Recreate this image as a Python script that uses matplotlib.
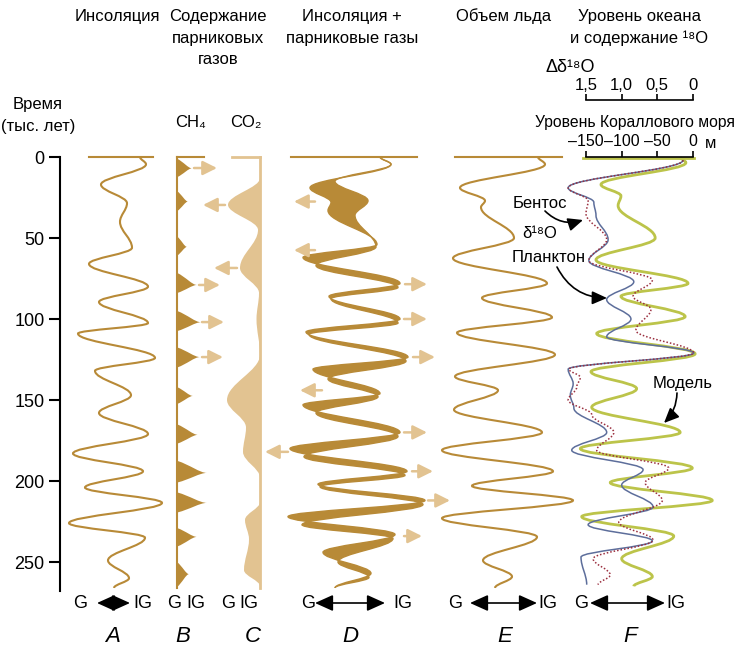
import matplotlib.pyplot as plt
from matplotlib.path import Path
from matplotlib.patches import PathPatch, FancyArrowPatch
from matplotlib.ticker import FuncFormatter

plt.rcParams['font.family'] = ['Liberation Sans', 'DejaVu Sans']

W, H = 740, 653
T_MAX = 267.9

BROWN = '#b88a37'
TAN = '#e2c391'
GREEN = '#bcc44a'
BLUE = '#5d6e9b'
RED = '#9b2f3f'

# ---- data: time in thousand years, horizontal value in each panel's own units ----
time_ticks = [0, 50, 100, 150, 200, 250]

# A: insolation
insol_t = [0, 4.5, 17, 28.5, 40, 56, 66, 80, 89.5, 102.5, 109, 124, 132, 147, 158,
           171, 183, 194, 204, 213.5, 226, 235, 249, 260, 266]
insol_x = [80, 86, 41, 67, 60, 72, 29, 88, 39, 88, 18, 95, 35, 71, 39,
           88, 13, 83, 25, 102, 9, 85, 48, 69, 54]

# B: CH4 peaks
ch4_start = [1, 21, 49, 71.5, 95, 117.5, 142, 165, 187.5, 207, 229, 250]
ch4_peak = [7, 27.5, 55.5, 79, 102, 123.5, 147.5, 171.5, 195, 213.5, 234.5, 257.5]
ch4_end = [12.5, 33.5, 61, 84, 107.5, 130, 152.5, 177, 201, 219.5, 240.5, 265.5]
ch4_height = [15, 11, 10, 20, 24, 23, 16, 21, 30, 30, 20, 12]

# C: CO2 (baseline at 39)
co2_t = [13, 29.5, 45, 68.5, 84, 100, 122, 150, 167, 182, 198, 213, 224, 236, 255, 265]
co2_x = [39, 7, 37, 19, 38, 35.5, 39, 6, 25, 22, 39, 39, 24, 28, 23, 39]

# D: insolation + greenhouse gases (two edges of the band)
combo_a_t = [0, 4.5, 19, 28, 33, 54, 62, 78, 86, 100, 108, 123.5, 131, 146, 153,
             170, 180, 194, 202, 212, 222, 233, 244, 257, 266]
combo_a_x = [100, 111, 30, 51, 48, 97, 23, 120, 49, 120, 26, 128, 33, 100, 23,
             120, 10, 127, 38, 145, 8, 115, 43, 91, 55]
combo_b_t = [0, 4.5, 15, 27, 36, 55.5, 67, 80.5, 87.5, 102.5, 109.5, 126, 137, 148, 158,
             172.5, 185, 196.5, 203.5, 214.5, 227, 235.5, 250, 259.5, 266]
combo_b_x = [100, 111, 55, 88, 75, 96, 36, 118, 51, 118, 29, 126, 48, 98, 36,
             118, 24, 125, 40, 143, 22, 113, 58, 89, 55]

# E: ice volume
ice_t = [0, 4.5, 19, 27, 31, 50, 62.5, 78, 87, 99, 108.5, 122, 135.5, 144, 156,
         170, 181, 194, 203, 212, 223, 234.5, 249, 259, 266]
ice_x = [98, 105, 20, 45, 41, 74, 13, 107, 42, 112, 17, 115, 15, 58, 14,
         102, 2, 113, 32, 133, 2, 97, 43, 72, 55]

# F: sea level, m
model_t = [0, 3.5, 17, 24, 30, 50, 63.5, 78, 86, 98.5, 109, 121.5, 132.5, 143, 154.5,
           170, 180, 192, 201, 212, 222, 234, 248, 259, 265]
model_m = [-18, -10, -129, -101, -105, -53, -136, -7, -101, -11, -135, 3, -143, -79, -142,
           -18, -158, -1, -116, 27, -156, -27, -100, -57, -83]
plankton_t = [2, 19, 28, 36, 51, 64, 77, 88, 100, 111, 121, 131, 140, 147, 155,
              170, 181, 193, 202.5, 216, 227, 237, 247, 264]
plankton_m = [-14, -175, -139, -136, -119, -146, -83, -121, -87, -121, 1, -175, -168, -172, -167,
              -121, -170, -70, -100, -56, -147, -57, -157, -149]
benthos_t = [2, 19, 27, 35, 51, 64, 76, 86, 94, 107, 121, 131, 136, 142, 150, 159,
             170, 181, 192, 201, 212, 225.5, 236.5, 248, 258, 264]
benthos_m = [-14, -175, -147, -150, -121, -146, -57, -84, -59, -80, 1, -174, -158, -163, -175, -142,
             -111, -135, -34, -67, -43, -104, -56, -140, -116, -133]

d18o_ticks = [1.5, 1.0, 0.5, 0]
sea_ticks = [-150, -100, -50, 0]

# tan arrows: (time, x from, x to) in figure pixel columns
ghg_arrows = [(6.8, 194, 217), (29.6, 225, 203), (68.5, 237, 214), (79, 199, 220),
              (101.9, 202, 224), (123.5, 202, 223),
              (27.5, 315, 294), (57.5, 315, 294), (78.5, 405, 427), (100, 404, 427),
              (123.5, 413, 435), (144, 322, 300), (170, 404, 427), (182, 288, 265),
              (194, 412, 433), (212, 428, 450), (234, 404, 422)]

K = 0.363


def wave_path(ts, xs):
    verts = [(xs[0], ts[0])]
    codes = [Path.MOVETO]
    for i in range(1, len(ts)):
        dt = ts[i] - ts[i - 1]
        verts += [(xs[i - 1], ts[i - 1] + K * dt), (xs[i], ts[i] - K * dt), (xs[i], ts[i])]
        codes += [Path.CURVE4] * 3
    return verts, codes


def draw_wave(ax, ts, xs, **kw):
    v, c = wave_path(ts, xs)
    ax.add_patch(PathPatch(Path(v, c), fill=False, clip_on=False, **kw))


fig = plt.figure(figsize=(W / 100, H / 100), dpi=100)
bottom = (H - 591) / H
height = 434 / H


def panel(x0, x1, xlim):
    ax = fig.add_axes([x0 / W, bottom, (x1 - x0) / W, height])
    ax.set_xlim(*xlim)
    ax.set_ylim(T_MAX, 0)
    ax.axis('off')
    return ax


def ftext(x, y, s, **kw):
    kw.setdefault('fontsize', 12)
    fig.text(x / W, 1 - y / H, s, ha='center', va='center', **kw)


# time axis
ax_t = fig.add_axes([60 / W, bottom, 0.0001, height])
ax_t.set_ylim(T_MAX, 0)
for s in ['top', 'right', 'bottom']:
    ax_t.spines[s].set_visible(False)
ax_t.spines['left'].set_linewidth(1.5)
ax_t.set_xticks([])
ax_t.set_yticks(time_ticks)
ax_t.tick_params(axis='y', length=8, width=1.5, pad=3, labelsize=13)
ax_t.patch.set_alpha(0)

# A
ax_a = panel(60, 180, (0, 120))
ax_a.plot([29, 93], [0, 0], color=BROWN, lw=1.5, clip_on=False)
draw_wave(ax_a, insol_t, insol_x, edgecolor=BROWN, lw=1.5)

# B
ax_b = panel(177, 217, (0, 40))
ax_b.plot([0, 27], [0, 0], color=BROWN, lw=1.5, clip_on=False)
ax_b.plot([0, 0], [0, 266], color=BROWN, lw=1.5, clip_on=False)
verts, codes = [], []
for ts, tp, te, h in zip(ch4_start, ch4_peak, ch4_end, ch4_height):
    verts += [(0, ts), (0.45 * h, ts + 0.35 * (tp - ts)), (0.75 * h, tp), (h, tp),
              (0.75 * h, tp), (0.45 * h, te - 0.35 * (te - tp)), (0, te), (0, ts)]
    codes += [Path.MOVETO] + [Path.CURVE4] * 6 + [Path.CLOSEPOLY]
ax_b.add_patch(PathPatch(Path(verts, codes), facecolor=BROWN, edgecolor='none', clip_on=False))

# C
ax_c = panel(221, 271, (0, 50))
ax_c.plot([11, 39], [0, 0], color=TAN, lw=2, clip_on=False)
ax_c.plot([39, 39], [0, 266], color=TAN, lw=2, clip_on=False)
v, c = wave_path(co2_t, co2_x)
ax_c.add_patch(PathPatch(Path(v + [v[0]], c + [Path.CLOSEPOLY]), facecolor=TAN,
                         edgecolor='none', clip_on=False))

# D
ax_d = panel(280, 450, (0, 170))
ax_d.plot([11, 137], [0, 0], color=BROWN, lw=1.5, clip_on=False)
va, ca = wave_path(combo_a_t, combo_a_x)
vb, cb = wave_path(combo_b_t[::-1], combo_b_x[::-1])
ax_d.add_patch(PathPatch(Path(va + vb + [va[0]], ca + [Path.LINETO] + cb[1:] + [Path.CLOSEPOLY]),
                         facecolor=BROWN, edgecolor='none', clip_on=False))
draw_wave(ax_d, combo_a_t, combo_a_x, edgecolor=BROWN, lw=1.0)
draw_wave(ax_d, combo_b_t, combo_b_x, edgecolor=BROWN, lw=1.0)

# E
ax_e = panel(440, 580, (0, 140))
ax_e.plot([15, 122], [0, 0], color=BROWN, lw=1.5, clip_on=False)
draw_wave(ax_e, ice_t, ice_x, edgecolor=BROWN, lw=1.5)

# F (sea level in metres)
m_per_px = 150 / 107
ax_f = fig.add_axes([555 / W, bottom, 165 / W, height])
ax_f.set_xlim((555 - 693) * m_per_px, (720 - 693) * m_per_px)
ax_f.set_ylim(T_MAX, 0)
ax_f.patch.set_alpha(0)
for s in ['left', 'right', 'bottom']:
    ax_f.spines[s].set_visible(False)
ax_f.spines['top'].set_bounds(-150, 0)
ax_f.spines['top'].set_linewidth(1.2)
ax_f.yaxis.set_visible(False)
ax_f.xaxis.tick_top()
ax_f.set_xticks(sea_ticks)
ax_f.set_xticklabels(['–150', '–100', '–50', '0'])
ax_f.tick_params(axis='x', direction='out', length=4, width=1.2, pad=1.5, labelsize=11.5)
ax_f.plot([-154, 1], [0.6, 0.6], color=GREEN, lw=2, clip_on=False)
draw_wave(ax_f, model_t, model_m, edgecolor=GREEN, lw=2)
draw_wave(ax_f, plankton_t, plankton_m, edgecolor=BLUE, lw=1.1)
draw_wave(ax_f, benthos_t, benthos_m, edgecolor=RED, lw=1.1, linestyle=(0, (1, 1.3)))

sec = ax_f.secondary_xaxis(1 + 57 / 434, functions=(lambda m: -m / 100, lambda d: -100 * d))
sec.set_xticks(d18o_ticks)
sec.xaxis.set_major_formatter(FuncFormatter(lambda v, p: '0' if v == 0 else f'{v:.1f}'.replace('.', ',')))
sec.tick_params(axis='x', direction='out', length=4, width=1.2, pad=1, labelsize=12)
for s in sec.spines.values():
    s.set_linewidth(1.2)
sec.spines['top'].set_bounds(0, 1.5)

arrow_kw = dict(arrowstyle='-|>,head_length=0.9,head_width=0.4', mutation_scale=10,
                color='black', lw=1.2, shrinkA=0, shrinkB=0)
for (x0, y0), (x1, y1), rad in [((545, 211), (583, 220), 0.3),
                                ((557, 267), (607, 298), 0.3),
                                ((677, 393), (664, 423), -0.2)]:
    ax_f.add_patch(FancyArrowPatch(((x0 - 693) * m_per_px, (y0 - 157) / 1.62),
                                   ((x1 - 693) * m_per_px, (y1 - 157) / 1.62),
                                   connectionstyle=f'arc3,rad={rad}', clip_on=False, **arrow_kw))

# overlay for tan arrows and bottom arrows
ov = fig.add_axes([0, 0, 1, 1])
ov.set_xlim(0, W)
ov.set_ylim(H, 0)
ov.axis('off')
for t, x0, x1 in ghg_arrows:
    y = 157 + 1.62 * t
    ov.add_patch(FancyArrowPatch((x0, y), (x1, y), arrowstyle='-|>,head_length=1.0,head_width=0.5',
                                 mutation_scale=8.5, color=TAN, lw=1.8, shrinkA=0, shrinkB=0))
for x0, x1 in [(97, 130), (315, 385), (470, 537), (590, 665)]:
    ov.add_patch(FancyArrowPatch((x0, 603), (x1, 603),
                                 arrowstyle='<|-|>,head_length=1.0,head_width=0.45',
                                 mutation_scale=11, color='black', lw=1.2, shrinkA=0, shrinkB=0))

# texts
ftext(117, 16, 'Инсоляция')
ftext(218, 16, 'Содержание')
ftext(218, 38, 'парниковых')
ftext(218, 60, 'газов')
ftext(38, 105, 'Время')
ftext(38, 127, '(тыс. лет)')
ftext(190, 122, 'CH₄')
ftext(246, 122, 'CO₂')
ftext(352, 16, 'Инсоляция +')
ftext(352, 38, 'парниковые газы')
ftext(504, 16, 'Объем льда')
ftext(639, 16, 'Уровень океана')
ftext(639, 38, 'и содержание ¹⁸O')
ftext(570, 68, 'Δδ¹⁸O', fontsize=13)
ftext(635, 122, 'Уровень Кораллового моря', fontsize=11.3)
ftext(711, 143, 'м', fontsize=12)
ftext(540, 203, 'Бентос')
ftext(540, 234, 'δ¹⁸O')
ftext(549, 258, 'Планктон')
ftext(683, 383, 'Модель')
for g, ig in [(80, 143), (174, 196), (228, 249), (308, 403), (455, 548), (581, 676)]:
    ftext(g, 603, 'G', fontsize=13)
    ftext(ig, 603, 'IG', fontsize=13)
for x, s in [(113, 'A'), (183, 'B'), (253, 'C'), (350, 'D'), (505, 'E'), (630, 'F')]:
    ftext(x, 637, s, fontsize=16, style='italic')

fig.savefig('out.png', dpi=100)
